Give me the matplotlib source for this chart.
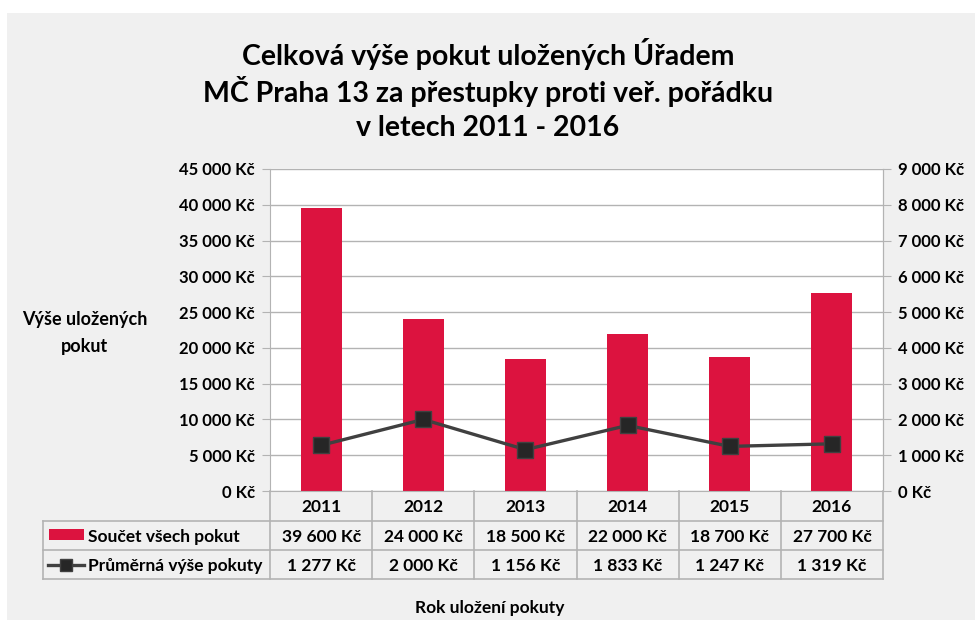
import matplotlib.pyplot as plt
import matplotlib.patches as mpatches
from matplotlib.lines import Line2D
from matplotlib.ticker import FuncFormatter, MultipleLocator
from matplotlib.transforms import blended_transform_factory

plt.rcParams['font.family'] = ['Lato', 'DejaVu Sans']
plt.rcParams['font.weight'] = 'bold'

# data
roky = ['2011', '2012', '2013', '2014', '2015', '2016']
soucet = [39600, 24000, 18500, 22000, 18700, 27700]
prumer = [1277, 2000, 1156, 1833, 1247, 1319]
nazev_soucet = 'Součet všech pokut'
nazev_prumer = 'Průměrná výše pokuty'
titulek = ['Celková výše pokut uložených Úřadem',
           'MČ Praha 13 za přestupky proti veř. pořádku',
           'v letech 2011 - 2016']

cervena = '#DC133F'
seda_car = '#404040'
mrizka = '#B3B3B3'
pozadi = '#F0F0F0'

W, H = 975, 622
fig = plt.figure(figsize=(W / 100, H / 100), dpi=100)
fig.patch.set_facecolor('white')

# seda plocha grafu
fig.patches.append(mpatches.Rectangle((7 / W, 1 - 620 / H), 968 / W, 607 / H,
                                      transform=fig.transFigure, facecolor=pozadi,
                                      edgecolor='none', zorder=-10))


def kc(v, pos=None):
    s = f'{int(round(v)):,}'.replace(',', ' ')
    return s + ' Kč'


def fy(py):
    return 1 - py / H


# osy v pixelech
x0, x1, ytop, ybot = 270, 883, 169, 491
ax = fig.add_axes([x0 / W, 1 - ybot / H, (x1 - x0) / W, (ybot - ytop) / H])
ax.set_facecolor('white')
x = list(range(len(roky)))
ax.bar(x, soucet, width=0.4, color=cervena, zorder=2)
ax.set_xlim(-0.5, len(roky) - 0.5)
ax.set_ylim(0, 45000)
ax.yaxis.set_major_locator(MultipleLocator(5000))
ax.yaxis.set_major_formatter(FuncFormatter(kc))
ax.grid(axis='y', color=mrizka, linewidth=1, zorder=0)
ax.set_xticks([])
ax.spines['top'].set_visible(False)
for s in ['left', 'right', 'bottom']:
    ax.spines[s].set_color(mrizka)
ax.tick_params(axis='y', length=6, color=mrizka, labelsize=12, pad=5)

ax2 = ax.twinx()
ax2.plot(x, prumer, color=seda_car, linewidth=2.4, marker='s', markersize=11,
         markerfacecolor='#262626', markeredgecolor=seda_car, zorder=3)
ax2.set_ylim(0, 9000)
ax2.yaxis.set_major_locator(MultipleLocator(1000))
ax2.yaxis.set_major_formatter(FuncFormatter(kc))
for s in ['top', 'left', 'bottom']:
    ax2.spines[s].set_visible(False)
ax2.spines['right'].set_color(mrizka)
ax2.tick_params(axis='y', length=6, color=mrizka, labelsize=12, pad=5)

# tabulka s daty
tr = blended_transform_factory(ax.transData, fig.transFigure)
r0, r1, r2, r3 = 491, 521, 550, 579
lc = dict(color=mrizka, linewidth=1.2, clip_on=False)
for i in range(len(roky) + 1):
    fig.add_artist(Line2D([i - 0.5, i - 0.5], [fy(r0), fy(r3)], transform=tr, **lc))
for r in (r1, r2, r3):
    fig.add_artist(Line2D([43 / W, x1 / W], [fy(r), fy(r)], transform=fig.transFigure, **lc))
fig.add_artist(Line2D([43 / W, 43 / W], [fy(r1), fy(r3)], transform=fig.transFigure, **lc))

fs_tab = 12.5
for i, rok in enumerate(roky):
    fig.text(i, fy((r0 + r1) / 2), rok, transform=tr, ha='center', va='center_baseline', fontsize=fs_tab)
    fig.text(i, fy((r1 + r2) / 2), kc(soucet[i]), transform=tr, ha='center', va='center_baseline', fontsize=fs_tab)
    fig.text(i, fy((r2 + r3) / 2), kc(prumer[i]), transform=tr, ha='center', va='center_baseline', fontsize=fs_tab)

# legenda v tabulce
fig.patches.append(mpatches.Rectangle((49 / W, fy(540)), 35 / W, 11 / H,
                                      transform=fig.transFigure, facecolor=cervena,
                                      edgecolor='none'))
fig.text(88 / W, fy((r1 + r2) / 2), nazev_soucet, ha='left', va='center_baseline', fontsize=fs_tab)
fig.add_artist(Line2D([48 / W, 84 / W], [fy(564.5), fy(564.5)], transform=fig.transFigure,
                      color=seda_car, linewidth=2.4))
fig.add_artist(Line2D([66 / W], [fy(564.5)], transform=fig.transFigure, linestyle='none',
                      marker='s', markersize=9, markerfacecolor='#262626',
                      markeredgecolor=seda_car))
fig.text(88 / W, fy((r2 + r3) / 2), nazev_prumer, ha='left', va='center_baseline', fontsize=fs_tab)

# popisky
for k, radek in enumerate(titulek):
    fig.text(488 / W, fy(52 + 37 * k), radek, ha='center', va='center_baseline', fontsize=20.5)
fig.text(85 / W, fy(318), 'Výše uložených', ha='center', va='center_baseline', fontsize=13)
fig.text(85 / W, fy(345), 'pokut', ha='center', va='center_baseline', fontsize=13)
fig.text(490 / W, fy(606), 'Rok uložení pokuty', ha='center', va='center_baseline', fontsize=12.5)

fig.savefig('out.png', dpi=100)
